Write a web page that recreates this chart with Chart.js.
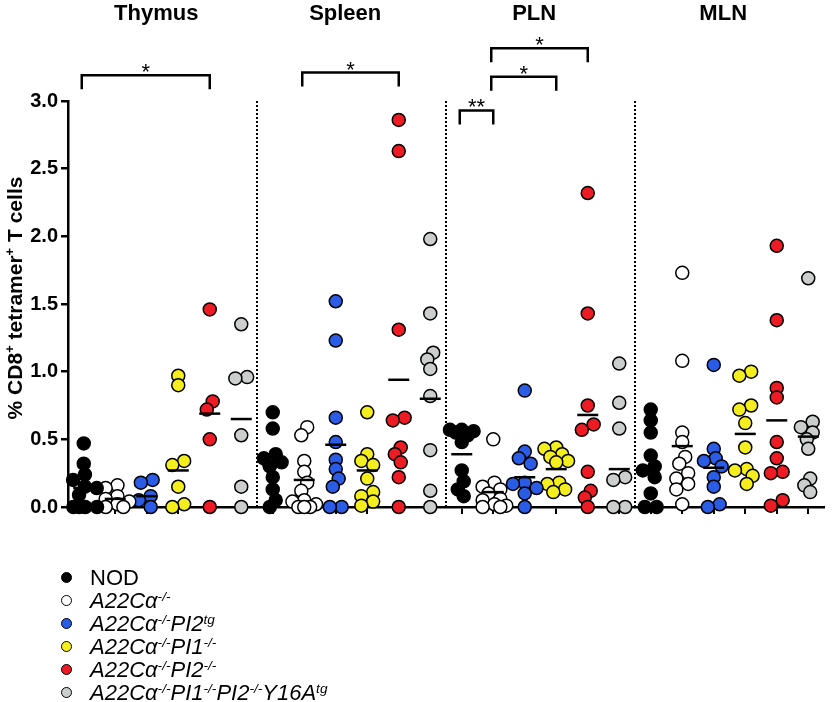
<!DOCTYPE html>
<html lang="en">
<head>
    <meta charset="UTF-8">
    <title>CD8 tetramer+ T cells</title>
    <script src="https://cdn.jsdelivr.net/npm/chart.js"></script>
    <style>
        body { margin: 0; background: #fff; font-family: 'Liberation Sans', Arial, sans-serif; }
        #wrap { position: relative; width: 837px; height: 702px; overflow: hidden; }
        #legend { position: absolute; left: 0; top: 566px; font-size: 22px; line-height: 23px; color: #000; }
        #legend div { position: relative; padding-left: 90px; white-space: nowrap; }
        #legend span.dot { position: absolute; left: 61px; top: 6px; width: 9px; height: 9px; border: 1.5px solid #000; border-radius: 50%; }
        #legend sup { font-size: 0.62em; vertical-align: 0; position: relative; top: -0.55em; line-height: 0; }
    </style>
</head>
<body>
<div id="wrap">
    <canvas id="grafico" width="837" height="702"></canvas>
    <div id="legend"></div>
</div>
<script>
    // groups and tissues
    const tissues = ['Thymus', 'Spleen', 'PLN', 'MLN'];
    const groupLabels = [
        'NOD',
        '<i>A22Cα<sup>-/-</sup></i>',
        '<i>A22Cα<sup>-/-</sup>PI2<sup>tg</sup></i>',
        '<i>A22Cα<sup>-/-</sup>PI1<sup>-/-</sup></i>',
        '<i>A22Cα<sup>-/-</sup>PI2<sup>-/-</sup></i>',
        '<i>A22Cα<sup>-/-</sup>PI1<sup>-/-</sup>PI2<sup>-/-</sup>Y16A<sup>tg</sup></i>'
    ];
    const groupColors = ['#000000', '#ffffff', '#2b5ce6', '#f5ee1f', '#ed1c24', '#cbcecd'];

    // values per tissue, one list per group (same order as groupLabels)
    const thymus = [
        [0.47, 0.32, 0.24, 0.20, 0.15, 0.14, 0.09, 0, 0, 0, 0],
        [0.16, 0.14, 0.08, 0.06, 0.04, 0.02, 0, 0],
        [0.20, 0.18, 0.08, 0.05, 0],
        [0.97, 0.90, 0.34, 0.31, 0.15, 0.02, 0],
        [1.46, 0.78, 0.72, 0.50, 0],
        [1.35, 0.96, 0.95, 0.53, 0.15, 0]
    ];
    const spleen = [
        [0.70, 0.58, 0.39, 0.36, 0.33, 0.30, 0.22, 0.13, 0.05, 0],
        [0.59, 0.53, 0.34, 0.26, 0.18, 0.12, 0.05, 0.04, 0.02, 0, 0, 0],
        [1.52, 1.23, 0.66, 0.48, 0.35, 0.28, 0.21, 0.15, 0, 0],
        [0.70, 0.39, 0.34, 0.31, 0.21, 0.11, 0.08, 0.04, 0.01],
        [2.86, 2.63, 1.31, 0.66, 0.64, 0.44, 0.39, 0.33, 0.22, 0],
        [1.98, 1.43, 1.14, 1.09, 1.02, 0.82, 0.42, 0.12, 0]
    ];
    const pln = [
        [0.57, 0.57, 0.56, 0.55, 0.53, 0.48, 0.27, 0.19, 0.13, 0.08],
        [0.50, 0.18, 0.15, 0.13, 0.10, 0.06, 0.05, 0.02, 0.01, 0, 0],
        [0.86, 0.41, 0.36, 0.32, 0.18, 0.17, 0.14, 0.10, 0],
        [0.44, 0.43, 0.39, 0.37, 0.34, 0.33, 0.18, 0.17, 0.13, 0.11],
        [2.32, 1.43, 0.75, 0.61, 0.57, 0.26, 0.12, 0.07, 0],
        [1.06, 0.77, 0.58, 0.22, 0.20, 0, 0]
    ];
    const mln = [
        [0.72, 0.64, 0.55, 0.38, 0.30, 0.27, 0.22, 0.10, 0, 0],
        [1.73, 1.08, 0.55, 0.48, 0.37, 0.32, 0.25, 0.21, 0.17, 0.13, 0.02],
        [1.05, 0.43, 0.36, 0.34, 0.30, 0.22, 0.15, 0.02, 0],
        [1.00, 0.97, 0.75, 0.72, 0.62, 0.44, 0.28, 0.27, 0.23, 0.17],
        [1.93, 1.38, 0.88, 0.81, 0.48, 0.36, 0.26, 0.25, 0.05, 0.01],
        [1.69, 0.63, 0.59, 0.55, 0.50, 0.43, 0.21, 0.16, 0.11]
    ];

    // mean bars
    const thymusMean = [0.14, 0.06, 0.08, 0.27, 0.69, 0.65];
    const spleenMean = [0.31, 0.20, 0.46, 0.27, 0.94, 0.80];
    const plnMean = [0.39, 0.11, 0.22, 0.28, 0.68, 0.28];
    const mlnMean = [0.30, 0.45, 0.29, 0.54, 0.64, 0.52];

    // y ticks
    const yTicks = [0, 0.5, 1.0, 1.5, 2.0, 2.5, 3.0];

    // significance brackets (column index from/to, level in y units, label)
    const bracketFrom = [0, 7, 12, 13, 13];
    const bracketTo = [4, 10, 13, 15, 16];
    const bracketLevel = [3.19, 3.21, 2.93, 3.18, 3.39];
    const bracketText = ['*', '*', '**', '*', '*'];

    const allTissues = [thymus, spleen, pln, mln];
    const allMeans = [thymusMean, spleenMean, plnMean, mlnMean];
    const nGroups = groupLabels.length;

    // small beeswarm: dots with close values sit side by side, rows kept centred
    const PX_X = 32, PX_Y = 135.5, STEP = 6, MIN_D = 9;
    function swarm(values, col) {
        const placed = [];
        const order = values.map((v, i) => i).sort((a, b) => values[b] - values[a]);
        order.forEach(i => {
            const py = values[i] * PX_Y;
            let best = 0, bestScore = -1;
            for (const k of [0, -1, 1, -2, 2]) {
                const px = k * STEP;
                let d = Infinity;
                placed.forEach(p => { d = Math.min(d, Math.hypot(p.px - px, p.py - py)); });
                if (d >= MIN_D) { best = px; break; }
                if (d > bestScore) { bestScore = d; best = px; }
            }
            placed.push({ px: best, py: py, v: values[i] });
        });
        // centre each run of overlapping dots
        let start = 0;
        for (let i = 1; i <= placed.length; i++) {
            if (i === placed.length || placed[i - 1].py - placed[i].py >= MIN_D) {
                const run = placed.slice(start, i);
                const m = run.reduce((s, p) => s + p.px, 0) / run.length;
                run.forEach(p => { p.px -= m; });
                start = i;
            }
        }
        return placed.map(p => ({ x: col + p.px / PX_X, y: p.v }));
    }

    const datasets = [];
    const meanPoints = [];
    for (let g = 0; g < nGroups; g++) {
        let pts = [];
        allTissues.forEach((t, ti) => {
            pts = pts.concat(swarm(t[g], ti * nGroups + g));
        });
        datasets.push({
            label: groupLabels[g],
            data: pts,
            backgroundColor: groupColors[g],
            borderColor: '#000',
            borderWidth: 1.5,
            pointRadius: 6.5,
            clip: false,
            order: 2
        });
    }
    allMeans.forEach((m, ti) => {
        m.forEach((v, g) => meanPoints.push({ x: ti * nGroups + g, y: v }));
    });
    datasets.push({
        label: 'mean',
        data: meanPoints,
        pointStyle: 'line',
        pointRadius: 10.5,
        borderColor: '#000',
        borderWidth: 2.5,
        clip: false,
        order: 1
    });

    const decor = {
        id: 'decor',
        beforeDatasetsDraw(chart) {
            const { ctx, scales: { x, y } } = chart;
            ctx.save();
            ctx.strokeStyle = '#000';
            ctx.lineWidth = 2;
            ctx.setLineDash([2, 2]);
            for (let t = 1; t < tissues.length; t++) {
                const px = x.getPixelForValue(t * nGroups - 0.5);
                ctx.beginPath();
                ctx.moveTo(px, y.getPixelForValue(3));
                ctx.lineTo(px, y.getPixelForValue(0));
                ctx.stroke();
            }
            ctx.restore();
        },
        afterDraw(chart) {
            const { ctx, scales: { x, y } } = chart;
            ctx.save();
            ctx.fillStyle = '#000';
            ctx.strokeStyle = '#000';

            // tissue titles
            ctx.font = 'bold 22px "Liberation Sans", Arial';
            ctx.textAlign = 'center';
            ctx.textBaseline = 'alphabetic';
            tissues.forEach((t, i) => {
                ctx.fillText(t, x.getPixelForValue(i * nGroups + 2.3), 19.5);
            });

            // brackets
            ctx.lineWidth = 2.5;
            ctx.font = '22px "Liberation Sans", Arial';
            bracketFrom.forEach((f, i) => {
                const x1 = x.getPixelForValue(f) - 2;
                const x2 = x.getPixelForValue(bracketTo[i]);
                const yt = y.getPixelForValue(bracketLevel[i]);
                const yb = yt + 14;
                ctx.beginPath();
                ctx.moveTo(x1, yb);
                ctx.lineTo(x1, yt);
                ctx.lineTo(x2, yt);
                ctx.lineTo(x2, yb);
                ctx.stroke();
                ctx.fillText(bracketText[i], (x1 + x2) / 2, yt + 4);
            });

            // y axis title with superscripts
            const parts = [['% CD8', false], ['+', true], [' tetramer', false], ['+', true], [' T cells', false]];
            const fMain = 'bold 21px "Liberation Sans", Arial';
            const fSup = 'bold 13px "Liberation Sans", Arial';
            let total = 0;
            parts.forEach(p => { ctx.font = p[1] ? fSup : fMain; total += ctx.measureText(p[0]).width; });
            ctx.translate(22, 298);
            ctx.rotate(-Math.PI / 2);
            ctx.textAlign = 'left';
            let cx = -total / 2;
            parts.forEach(p => {
                ctx.font = p[1] ? fSup : fMain;
                ctx.fillText(p[0], cx, p[1] ? -8 : 0);
                cx += ctx.measureText(p[0]).width;
            });
            ctx.restore();
        }
    };

    new Chart(document.getElementById('grafico'), {
        type: 'scatter',
        data: { datasets: datasets },
        options: {
            responsive: false,
            animation: false,
            events: [],
            layout: { padding: { top: 101, right: 2, bottom: 185, left: 0 } },
            plugins: { legend: { display: false }, tooltip: { enabled: false } },
            scales: {
                x: {
                    type: 'linear',
                    min: -0.5,
                    max: tissues.length * nGroups - 0.5,
                    afterBuildTicks: s => { s.ticks = Array.from({ length: tissues.length * nGroups }, (_, i) => ({ value: i })); },
                    afterFit: s => { s.height = 10; },
                    ticks: { display: false },
                    grid: { drawOnChartArea: false, drawTicks: true, tickLength: 7, color: '#000', lineWidth: 2 },
                    border: { color: '#000', width: 2.5 }
                },
                y: {
                    min: 0,
                    max: 3,
                    afterBuildTicks: s => { s.ticks = yTicks.map(v => ({ value: v })); },
                    afterFit: s => { s.width = 68; },
                    ticks: {
                        color: '#000',
                        padding: 3,
                        font: { family: '"Liberation Sans", Arial', size: 20, weight: 'bold' },
                        callback: v => v.toFixed(1)
                    },
                    grid: { drawOnChartArea: false, drawTicks: true, tickLength: 7, color: '#000', lineWidth: 2.5 },
                    border: { color: '#000', width: 2.5 }
                }
            }
        },
        plugins: [decor]
    });

    // legend
    const legend = document.getElementById('legend');
    groupLabels.forEach((lab, i) => {
        const row = document.createElement('div');
        row.innerHTML = '<span class="dot" style="background:' + groupColors[i] + '"></span>' + lab;
        legend.appendChild(row);
    });
</script>
</body>
</html>
